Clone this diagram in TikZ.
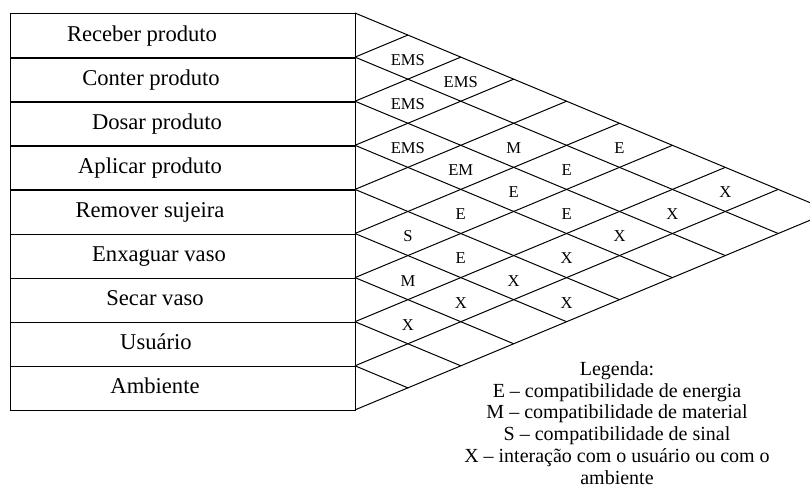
\documentclass[tikz,border=0pt]{standalone}
\usepackage{fontspec}
\setmainfont{Liberation Serif}
\usetikzlibrary{calc}

\begin{document}
\begin{tikzpicture}[x=0.5pt,y=-0.5pt,
    rowbox/.style={draw,line width=0.7pt,anchor=north west,inner sep=0pt,
      minimum width=172.5pt,minimum height=22.05pt},
    rowlbl/.style={font=\fontsize{11.3}{13}\selectfont,inner sep=0pt,
      text height=1.6ex,text depth=.3ex},
    grid/.style={line width=0.5pt},
    cell/.style={font=\fontsize{8.3}{10}\selectfont,inner sep=0pt},
    leg/.style={font=\fontsize{10}{10.9}\selectfont,align=center,inner sep=0pt}]
  \useasboundingbox (0,0) rectangle (810,495);
  \clip (0,0) rectangle (810,495);
  \foreach \i/\txt/\cx in {1/Receber produto/142,2/Conter produto/151,
      3/Dosar produto/157,4/Aplicar produto/150,5/Remover sujeira/150,
      6/Enxaguar vaso/159,7/Secar vaso/155,8/Usuário/156,9/Ambiente/155}{
    \node[rowbox] (row\i) at (10,{13+(\i-1)*44.1}) {};
    \node[rowlbl] (lbl\i) at (\cx,{13+(\i-0.5)*44.1}) {\txt};
  }
  \foreach \k in {0,...,9}
    \coordinate (b\k) at (355,{13+\k*44.1});
  \foreach \k in {0,...,8}
    \draw[grid] (b\k) -- ({355+(9-\k)*52.9},{13+(\k+9)*22.05});
  \foreach \k in {1,...,9}
    \draw[grid] (b\k) -- ({355+\k*52.9},{13+\k*22.05});
  \foreach \a/\b/\t in {1/2/EMS,1/3/EMS,2/3/EMS,3/4/EMS,2/5/M,1/6/E,3/5/EM,
      2/6/E,3/6/E,4/6/E,3/7/E,2/8/X,1/8/X,5/6/S,3/8/X,5/7/E,4/8/X,6/7/M,
      5/8/X,6/8/X,5/9/X,7/8/X}
    \node[cell] (c\a\b) at ({355+(\b-\a)*52.9},{16+(\a+\b-1)*22.05}) {\t};
  \node[leg] (legenda) at (617,423) {Legenda:\\
    E \textendash{} compatibilidade de energia\\
    M \textendash{} compatibilidade de material\\
    S \textendash{} compatibilidade de sinal\\
    X \textendash{} interação com o usuário ou com o\\
    ambiente};
\end{tikzpicture}
\end{document}
